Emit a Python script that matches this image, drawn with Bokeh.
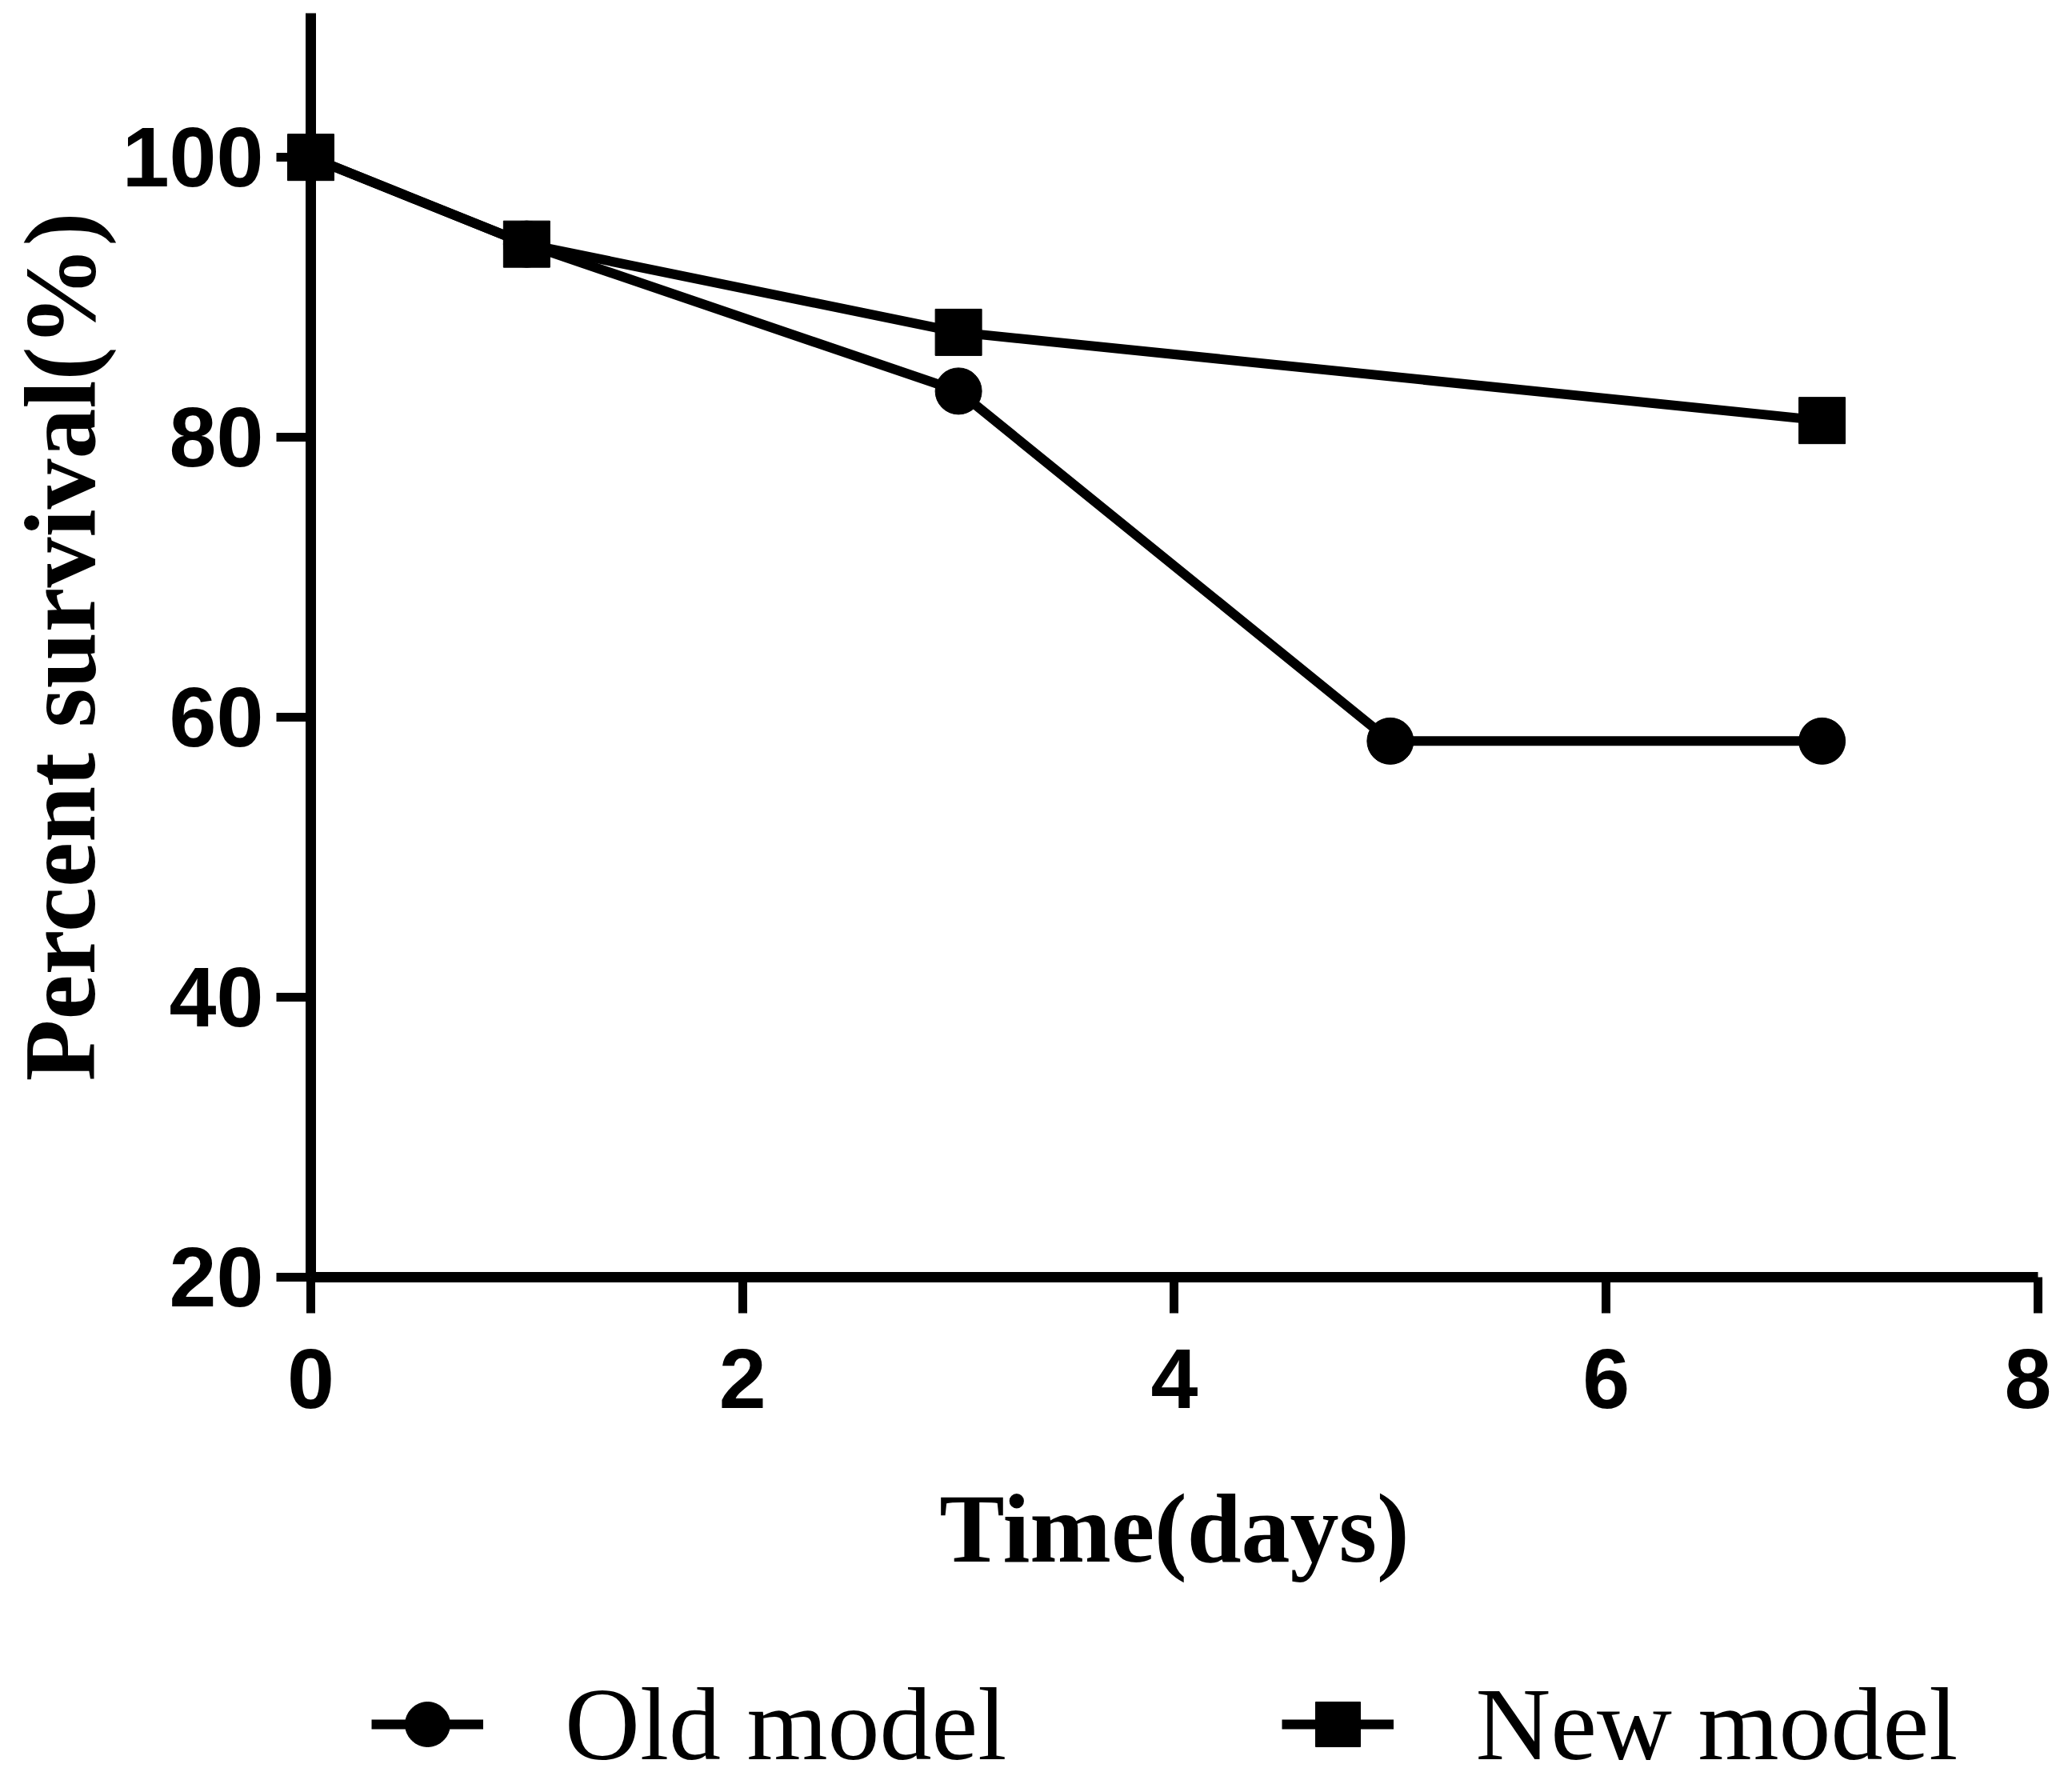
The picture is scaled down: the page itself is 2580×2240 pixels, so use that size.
from bokeh.plotting import figure
from bokeh.models import Range1d, FixedTicker, Legend, LegendItem, Title
from bokeh.embed import file_html
from bokeh.resources import INLINE

# ---- data ----
days_old = [0, 1, 3, 5, 7]
surv_old = [100, 93.8, 83.3, 58.3, 58.3]
days_new = [0, 1, 3, 7]
surv_new = [100, 93.8, 87.5, 81.2]
x_ticks = [0, 2, 4, 6, 8]
y_ticks = [20, 40, 60, 80, 100]
x_min, x_max = 0, 8
y_min, y_max = 20, 110.3
series_names = ["Old model", "New model"]
x_title = "Time(days)"
y_title = "Percent survival(%)"

# The frame covers the whole drawing area; both axes are pinned at the data
# origin (x=0, y=20) so their labels and the legend below stay inside it.
p = figure(frame_width=2419, frame_height=2232,
           min_border_left=145, min_border_right=0,
           min_border_top=0, min_border_bottom=0,
           x_range=Range1d(-0.9004, 8.063), y_range=Range1d(-16.34, 111.21),
           output_backend="svg", toolbar_location=None)

p.grid.visible = False
p.outline_line_color = None
p.background_fill_color = "white"
p.border_fill_color = "white"

for ax in (p.xaxis[0], p.yaxis[0]):
    ax.axis_line_width = 13
    ax.axis_line_color = "black"
    ax.major_tick_line_width = 11
    ax.major_tick_line_color = "black"
    ax.major_tick_in = 0
    ax.minor_tick_line_color = None
    ax.major_label_text_font = "Liberation Sans"
    ax.major_label_text_font_style = "bold"
    ax.major_label_text_font_size = "106px"
    ax.major_label_text_color = "black"
    ax.axis_label_text_font = "Liberation Serif"
    ax.axis_label_text_font_style = "bold"
    ax.axis_label_text_font_size = "122px"
    ax.axis_label_text_color = "black"

p.xaxis[0].ticker = FixedTicker(ticks=x_ticks)
p.yaxis[0].ticker = FixedTicker(ticks=y_ticks)
p.xaxis[0].fixed_location = y_min
p.yaxis[0].fixed_location = x_min
p.xaxis[0].bounds = (x_min, x_max)
p.yaxis[0].bounds = (y_min, y_max)
p.xaxis[0].major_tick_out = 45
p.yaxis[0].major_tick_out = 43
p.xaxis[0].major_label_standoff = 45
p.yaxis[0].major_label_standoff = 16
p.xaxis[0].axis_label = x_title
p.xaxis[0].axis_label_standoff = 80

# y-axis title, placed in the left border and lined up with the axis span
ytitle = Title(text=y_title, align="left", vertical_align="middle",
               offset=881, standoff=0,
               text_font="Liberation Serif", text_font_style="bold",
               text_font_size="126px", text_color="black")
p.add_layout(ytitle, "left")

lw = 12
r_old_line = p.line(days_old, surv_old, line_color="black", line_width=lw)
r_old_pts = p.scatter(days_old, surv_old, marker="circle", size=58,
                      fill_color="black", line_color="black")
r_new_line = p.line(days_new, surv_new, line_color="black", line_width=lw)
r_new_pts = p.scatter(days_new, surv_new, marker="square", size=58,
                      fill_color="black", line_color="black")

legend = Legend(items=[LegendItem(label=series_names[0], renderers=[r_old_line, r_old_pts]),
                       LegendItem(label=series_names[1], renderers=[r_new_line, r_new_pts])],
                location=(319, 2), orientation="horizontal",
                glyph_width=140, glyph_height=140, label_height=140,
                label_standoff=102, padding=0, margin=0, spacing=344,
                border_line_color=None, background_fill_alpha=0,
                label_text_font="Liberation Serif",
                label_text_font_size="130px", label_text_color="black")
p.add_layout(legend, "center")

open("out.html", "w").write(file_html(p, INLINE))
